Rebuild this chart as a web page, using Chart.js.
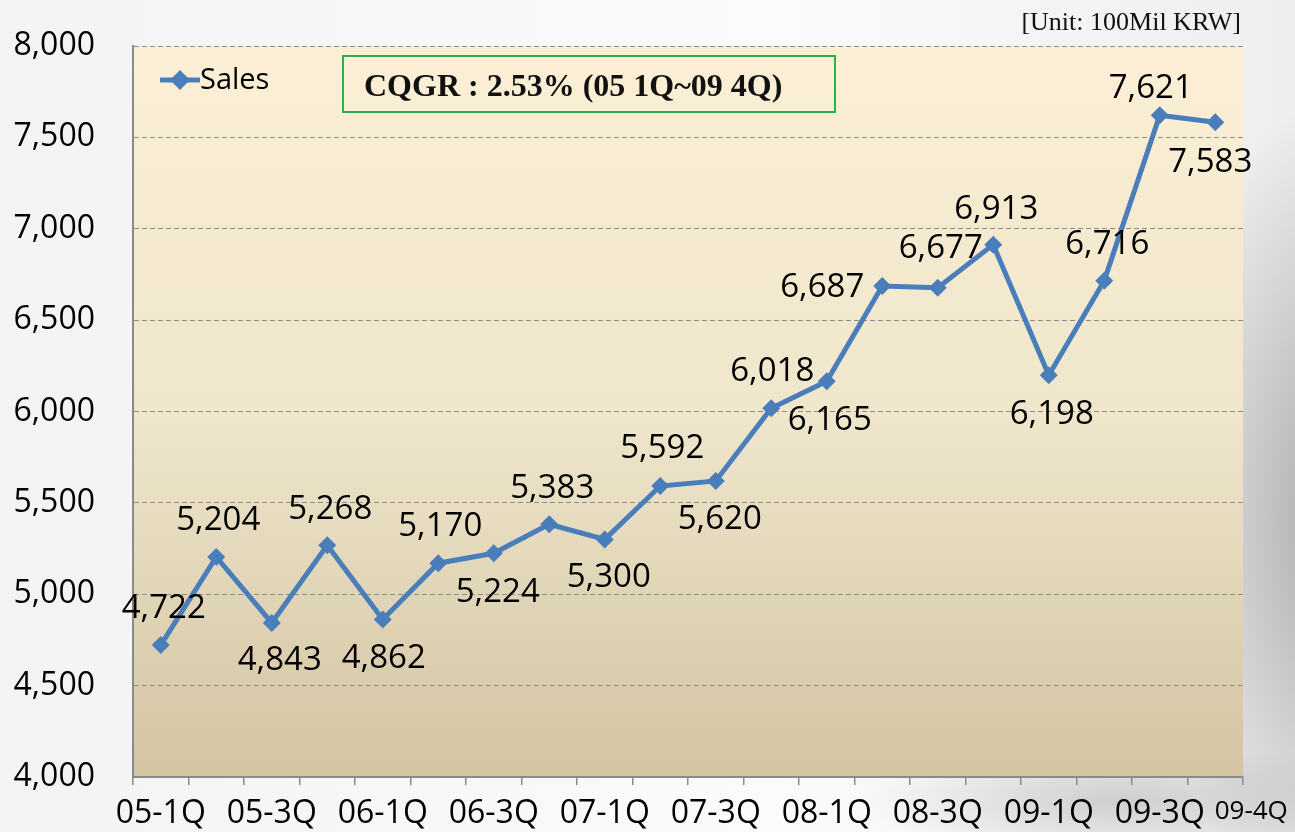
<!DOCTYPE html>
<html>
<head>
<meta charset="utf-8">
<script src="https://cdn.jsdelivr.net/npm/chart.js@4.4.0/dist/chart.umd.min.js"></script>
<style>
    html, body { margin: 0; padding: 0; }
    body {
        width: 1295px; height: 832px; overflow: hidden; position: relative;
        background:
            radial-gradient(ellipse 180px 420px at 1330px 520px, rgba(150,150,150,0.75), rgba(200,200,200,0) 100%),
            radial-gradient(ellipse 260px 60px at 1120px 800px, rgba(170,170,170,0.5), rgba(200,200,200,0) 100%),
            linear-gradient(to right, #f3f3f3, #fbfbfb 60%, #eeeeee);
    }
    #wrap { position: absolute; left: 0; top: 0; width: 1295px; height: 832px; }
    #unit {
        position: absolute; left: 930px; top: 7px; width: 311px; text-align: right;
        font: 26px "Liberation Serif", "DejaVu Serif", serif; color: #111;
    }
    #cqgr {
        position: absolute; left: 342px; top: 55px; width: 490px; height: 54px;
        border: 2px solid #2bb14c; box-sizing: content-box;
        font: bold 32px "Liberation Serif", "DejaVu Serif", serif; color: #111;
        line-height: 56px; text-indent: 20px; white-space: nowrap;
    }
</style>
</head>
<body>
<div id="wrap"><canvas id="myChart" width="1295" height="832"></canvas></div>
<div id="unit">[Unit: 100Mil KRW]</div>
<div id="cqgr">CQGR : 2.53% (05 1Q~09 4Q)</div>
<script>
let quarters = [
    "05-1Q", "05-2Q", "05-3Q", "05-4Q",
    "06-1Q", "06-2Q", "06-3Q", "06-4Q",
    "07-1Q", "07-2Q", "07-3Q", "07-4Q",
    "08-1Q", "08-2Q", "08-3Q", "08-4Q",
    "09-1Q", "09-2Q", "09-3Q", "09-4Q"
];

let sales = [
    4722, 5204, 4843, 5268,
    4862, 5170, 5224, 5383,
    5300, 5592, 5620, 6018,
    6165, 6687, 6677, 6913,
    6198, 6716, 7621, 7583
];

let yTicks = [4000, 4500, 5000, 5500, 6000, 6500, 7000, 7500, 8000];

// где стоят подписи значений относительно точки
const labelOffsets = [
    [3, -36], [2, -36], [8, 38], [3, -36],
    [1, 39], [2, -37], [4, 39], [3, -36],
    [4, 38], [2, -37], [4, 39], [1, -37],
    [3, 39], [-60, 2], [3, -39], [3, -35],
    [3, 39], [3, -36], [-9, -27], [-5, 40]
];

const lineColor = '#4a7ebb';
const fontName = '"Open Sans", "Noto Sans", sans-serif';

const fmt = v => v.toLocaleString('en-US');

const bgPlugin = {
    id: 'plotBg',
    beforeDraw(chart) {
        const a = chart.chartArea;
        const ctx = chart.ctx;
        const g = ctx.createLinearGradient(0, a.top, 0, a.bottom);
        g.addColorStop(0, '#fcefd5');
        g.addColorStop(0.5, '#efe6cc');
        g.addColorStop(1, '#d3c4a2');
        ctx.save();
        ctx.fillStyle = g;
        ctx.fillRect(a.left, a.top, a.right - a.left, a.bottom - a.top);
        ctx.restore();
    }
};

const labelPlugin = {
    id: 'valueLabels',
    afterDatasetsDraw(chart) {
        const ctx = chart.ctx;
        const meta = chart.getDatasetMeta(0);
        ctx.save();
        ctx.font = '33px ' + fontName;
        ctx.fillStyle = '#000';
        ctx.textAlign = 'center';
        ctx.textBaseline = 'middle';
        meta.data.forEach((pt, i) => {
            const off = labelOffsets[i];
            ctx.fillText(fmt(sales[i]), pt.x + off[0], pt.y + off[1]);
        });

        // легенда
        const lx = 160, ly = 80;
        ctx.strokeStyle = lineColor;
        ctx.lineWidth = 5;
        ctx.beginPath();
        ctx.moveTo(lx, ly);
        ctx.lineTo(lx + 40, ly);
        ctx.stroke();
        ctx.fillStyle = lineColor;
        ctx.beginPath();
        ctx.moveTo(lx + 20, ly - 10);
        ctx.lineTo(lx + 30, ly);
        ctx.lineTo(lx + 20, ly + 10);
        ctx.lineTo(lx + 10, ly);
        ctx.closePath();
        ctx.fill();
        ctx.fillStyle = '#000';
        ctx.font = '29px ' + fontName;
        ctx.textAlign = 'left';
        ctx.fillText('Sales', lx + 40, ly + 1);

        // последняя подпись оси X, меньше и сдвинута вправо
        const xs = chart.scales.x;
        ctx.font = '26px ' + fontName;
        ctx.textAlign = 'center';
        ctx.fillText(quarters[quarters.length - 1], xs.getPixelForValue(quarters.length - 1) + 36, 812);
        ctx.restore();
    }
};

const data = {
    labels: quarters,
    datasets: [{
        label: 'Sales',
        data: sales,
        borderColor: lineColor,
        backgroundColor: lineColor,
        borderWidth: 5,
        pointStyle: 'rectRot',
        pointRadius: 9,
        pointHoverRadius: 9,
        pointBorderWidth: 0,
        tension: 0
    }]
};

const config = {
    type: 'line',
    data: data,
    options: {
        responsive: false,
        animation: false,
        layout: { padding: { left: 0, right: 52, top: 46, bottom: 0 } },
        plugins: {
            legend: { display: false },
            tooltip: { enabled: false }
        },
        scales: {
            x: {
                offset: true,
                grid: {
                    offset: true,
                    drawOnChartArea: false,
                    drawTicks: true,
                    tickLength: 8,
                    color: '#8a8a8a',
                    lineWidth: 1.5
                },
                border: { color: '#8a8a8a', width: 2 },
                ticks: {
                    autoSkip: false,
                    maxRotation: 0,
                    padding: 10,
                    color: '#000',
                    font: { family: fontName, size: 32 },
                    callback: function (v, i) {
                        return (i % 2 === 0) ? quarters[i] : '';
                    }
                },
                afterFit: s => { s.height = 55; }
            },
            y: {
                min: yTicks[0],
                max: yTicks[yTicks.length - 1],
                afterBuildTicks: s => { s.ticks = yTicks.map(v => ({ value: v })); },
                grid: {
                    drawTicks: true,
                    tickLength: 38,
                    tickColor: 'rgba(0,0,0,0)',
                    color: '#8c8c8c',
                    lineWidth: 1
                },
                border: { color: '#8a8a8a', width: 2, dash: [5, 3] },
                ticks: {
                    padding: 0,
                    color: '#000',
                    font: { family: fontName, size: 32 },
                    callback: v => fmt(v)
                },
                afterFit: s => { s.width = 133; }
            }
        }
    },
    plugins: [bgPlugin, labelPlugin]
};

var myChart = new Chart(document.getElementById('myChart'), config);
</script>
</body>
</html>
